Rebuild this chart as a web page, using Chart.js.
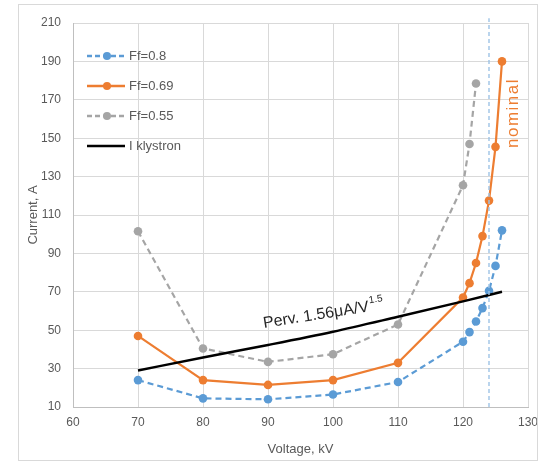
<!DOCTYPE html>
<html>
<head>
<meta charset="utf-8">
<script src="https://cdn.jsdelivr.net/npm/chart.js@4/dist/chart.umd.min.js"></script>
<style>
  body { margin: 0; background: #fff; }
  #wrap { position: relative; width: 541px; height: 462px; }
</style>
</head>
<body>
<div id="wrap"><canvas id="chart" width="541" height="462"></canvas></div>
<script>
// values
const voltage = [70, 80, 90, 100, 110, 120, 121, 122, 123, 124, 125, 126];
const ff08 = [24, 14.5, 14, 16.5, 23, 44, 49, 54.5, 61.5, 70.5, 83.5, 102];
const ff069 = [47, 24, 21.5, 24, 33, 67, 74.5, 85, 99, 117.5, 145.5, 190];
const voltage055 = [70, 80, 90, 100, 110, 120, 121, 122];
const ff055 = [101.5, 40.5, 33.5, 37.5, 53, 125.5, 147, 178.5];
const klystronV = [70, 80, 90, 100, 110, 120, 126];
const klystronI = [29, 35.8, 42.3, 49.2, 57, 65, 70];
const nominalV = 124;
const xTicks = [60, 130, 10];
const yTicks = [10, 210, 20];

const pts = (xs, ys) => xs.map((x, i) => ({ x: x, y: ys[i] }));

const BLUE = "#5b9bd5", ORANGE = "#ed7d31", GRAY = "#a5a5a5";
const FONT = "'Liberation Sans', sans-serif";
const TXT = "#595959";

const legendItems = [
  { label: "Ff=0.8", color: BLUE, dash: [5, 3], marker: true },
  { label: "Ff=0.69", color: ORANGE, dash: [], marker: true },
  { label: "Ff=0.55", color: GRAY, dash: [5, 3], marker: true },
  { label: "I klystron", color: "#000", dash: [], marker: false },
];

const extras = {
  id: "extras",
  afterDraw(chart) {
    const ctx = chart.ctx;
    ctx.save();
    // outer frame
    ctx.strokeStyle = "#d9d9d9";
    ctx.lineWidth = 1;
    ctx.strokeRect(18.5, 4.5, 519, 456);

    // legend
    legendItems.forEach((it, i) => {
      const ly = 56 + i * 30;
      ctx.strokeStyle = it.color;
      ctx.lineWidth = 2.5;
      ctx.setLineDash(it.dash);
      ctx.beginPath();
      ctx.moveTo(87, ly);
      ctx.lineTo(125, ly);
      ctx.stroke();
      ctx.setLineDash([]);
      if (it.marker) {
        ctx.fillStyle = it.color;
        ctx.beginPath();
        ctx.arc(107, ly, 4, 0, Math.PI * 2);
        ctx.fill();
      }
      ctx.fillStyle = TXT;
      ctx.font = "13px " + FONT;
      ctx.textAlign = "left";
      ctx.textBaseline = "middle";
      ctx.fillText(it.label, 129, ly);
    });

    // axis titles
    ctx.fillStyle = TXT;
    ctx.font = "13px " + FONT;
    ctx.textAlign = "center";
    ctx.textBaseline = "middle";
    ctx.fillText("Voltage, kV", (chart.chartArea.left + chart.chartArea.right) / 2, 449);
    ctx.save();
    ctx.translate(33, 215);
    ctx.rotate(-Math.PI / 2);
    ctx.fillText("Current, A", 0, 0);
    ctx.restore();

    // perveance label
    ctx.save();
    ctx.translate(264, 328);
    ctx.rotate(-9 * Math.PI / 180);
    ctx.fillStyle = "#262626";
    ctx.font = "16px " + FONT;
    ctx.textAlign = "left";
    ctx.textBaseline = "alphabetic";
    const base = "Perv. 1.56\u03bcA/V";
    ctx.fillText(base, 0, 0);
    const w = ctx.measureText(base).width;
    ctx.font = "10px " + FONT;
    ctx.fillText("1.5", w + 1, -8);
    ctx.restore();

    // nominal label
    ctx.save();
    ctx.translate(513, 113);
    ctx.rotate(-Math.PI / 2);
    ctx.fillStyle = ORANGE;
    ctx.font = "17px " + FONT;
    ctx.letterSpacing = "1.5px";
    ctx.textAlign = "center";
    ctx.textBaseline = "middle";
    ctx.fillText("nominal", 0, 0);
    ctx.restore();
    ctx.restore();
  },
};

new Chart(document.getElementById("chart"), {
  type: "scatter",
  data: {
    datasets: [
      {
        label: "nominal",
        data: [{ x: nominalV, y: yTicks[0] }, { x: nominalV, y: yTicks[1] + 2.5 }],
        showLine: true,
        borderColor: "#9dc3e6",
        borderWidth: 1.4,
        borderDash: [4, 3],
        pointRadius: 0,
        clip: false,
      },
      {
        label: "I klystron",
        data: pts(klystronV, klystronI),
        showLine: true,
        borderColor: "#000",
        borderWidth: 2.5,
        pointRadius: 0,
        cubicInterpolationMode: "monotone",
      },
      {
        label: "Ff=0.55",
        data: pts(voltage055, ff055),
        showLine: true,
        borderColor: GRAY,
        backgroundColor: GRAY,
        borderWidth: 2.2,
        borderDash: [6, 4],
        pointRadius: 4.3,
        pointBorderWidth: 0,
      },
      {
        label: "Ff=0.69",
        data: pts(voltage, ff069),
        showLine: true,
        borderColor: ORANGE,
        backgroundColor: ORANGE,
        borderWidth: 2.2,
        pointRadius: 4.3,
        pointBorderWidth: 0,
      },
      {
        label: "Ff=0.8",
        data: pts(voltage, ff08),
        showLine: true,
        borderColor: BLUE,
        backgroundColor: BLUE,
        borderWidth: 2.2,
        borderDash: [6, 4],
        pointRadius: 4.3,
        pointBorderWidth: 0,
      },
    ],
  },
  options: {
    responsive: false,
    animation: false,
    layout: { padding: { left: 0, top: 23, right: 13, bottom: 0 } },
    plugins: { legend: { display: false }, tooltip: { enabled: false } },
    scales: {
      x: {
        type: "linear",
        min: xTicks[0],
        max: xTicks[1],
        ticks: { stepSize: xTicks[2], color: TXT, font: { family: FONT, size: 12 }, padding: 8 },
        grid: { color: "#d9d9d9", drawTicks: false },
        border: { color: "#bfbfbf" },
        afterFit(s) { s.height = 55; s.paddingLeft = 0; s.paddingRight = 0; },
      },
      y: {
        min: yTicks[0],
        max: yTicks[1],
        ticks: { stepSize: yTicks[2], color: TXT, font: { family: FONT, size: 12 }, padding: 12 },
        grid: { color: "#d9d9d9", drawTicks: false },
        border: { color: "#bfbfbf" },
        afterFit(s) { s.width = 73; s.paddingTop = 0; s.paddingBottom = 0; },
      },
    },
  },
  plugins: [extras],
});
</script>
</body>
</html>
